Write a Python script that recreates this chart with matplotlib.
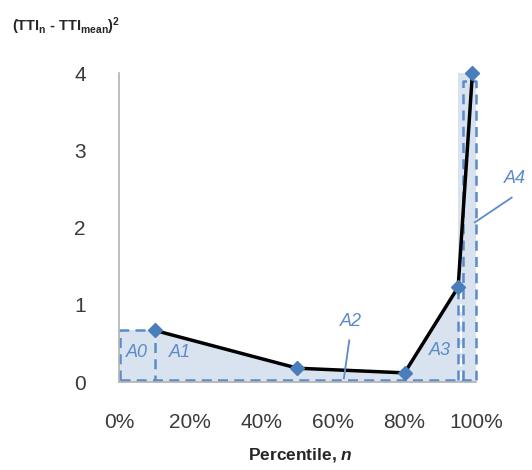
import matplotlib
matplotlib.use("Agg")
import matplotlib.pyplot as plt
from matplotlib.patches import Rectangle
from matplotlib.ticker import FuncFormatter

plt.rcParams["font.family"] = ["Liberation Sans", "DejaVu Sans"]
plt.rcParams["mathtext.fontset"] = "custom"
plt.rcParams["mathtext.rm"] = "Liberation Sans"
plt.rcParams["mathtext.bf"] = "Liberation Sans:bold"
plt.rcParams["mathtext.it"] = "Liberation Sans:italic"
plt.rcParams["mathtext.bfit"] = "Liberation Sans:italic:bold"

# ─── Data ─────────────────────────────────────────────────────────────────────
percentile = [0.10, 0.50, 0.80, 0.95, 0.99]
sq_dev     = [0.67, 0.18, 0.12, 1.23, 4.00]

x_ticks = [0.0, 0.2, 0.4, 0.6, 0.8, 1.0]
y_ticks = [0, 1, 2, 3, 4]

area_labels = ["A0", "A1", "A2", "A3", "A4"]
area_text_xy = [(0.05, 0.39), (0.17, 0.39), (0.65, 0.78), (0.90, 0.41), (1.11, 2.64)]

MARK  = "#4A7EBB"
FILL  = "#D9E3F0"
DASH  = "#5B8BC9"
AXIS  = "#B3B3B3"
TEXT  = "#3A3A3A"

fig = plt.figure(figsize=(5.32, 4.70), dpi=100)
ax = fig.add_axes([0.2237, 0.187, 0.671, 0.657])

# shaded areas under the curve
ax.fill_between([0.0, percentile[0]], 0, sq_dev[0], color=FILL, lw=0, zorder=1)
ax.fill_between(percentile, 0, sq_dev, color=FILL, lw=0, zorder=1)
ax.add_patch(Rectangle((percentile[3], 0), 1.0 - percentile[3], sq_dev[4],
                       facecolor=FILL, edgecolor="none", zorder=1, clip_on=False))

# dashed outlines of the partial areas
dash_kw = dict(color=DASH, lw=1.8, ls=(0, (4, 2.5)), zorder=2, clip_on=False)
ax.plot([0.003, 0.003, percentile[0], percentile[0]],
        [0.03, sq_dev[0], sq_dev[0], 0.03], **dash_kw)
ax.plot([0.003, 1.0], [0.03, 0.03], **dash_kw)
ax.plot([percentile[3], percentile[3]], [0.03, sq_dev[3]], **dash_kw)
ax.plot([percentile[3] + 0.008, percentile[3] + 0.008], [0.03, sq_dev[3]],
        color="white", lw=1.5, ls=(0, (4, 2.5)), zorder=2)
ax.plot([percentile[3] + 0.015, percentile[3] + 0.015, 1.0, 1.0],
        [0.03, 3.9, 3.9, 0.03], **dash_kw)

# the curve itself
ax.plot(percentile, sq_dev, color="black", lw=2.5, zorder=3, clip_on=False)
ax.plot(percentile, sq_dev, ls="none", marker="D", ms=7.5, color=MARK,
        zorder=4, clip_on=False)

# area names and leader lines
for name, (tx, ty) in zip(area_labels, area_text_xy):
    ax.text(tx, ty, name, color=DASH, fontsize=13, style="italic",
            ha="center", va="center", zorder=5, clip_on=False)
ax.plot([0.645, 0.63], [0.54, 0.05], color=DASH, lw=1.3, zorder=5)
ax.plot([1.10, 0.997], [2.39, 2.07], color=DASH, lw=1.3, zorder=5, clip_on=False)

# axes styling
ax.set_xlim(0, 1)
ax.set_ylim(0, 4)
ax.set_xticks(x_ticks)
ax.set_yticks(y_ticks)
ax.xaxis.set_major_formatter(FuncFormatter(lambda v, _: f"{v:.0%}"))
ax.tick_params(length=0, labelsize=15, labelcolor=TEXT)
ax.tick_params(axis="x", pad=22)
ax.tick_params(axis="y", pad=24)
for side in ("top", "right"):
    ax.spines[side].set_visible(False)
for side in ("left", "bottom"):
    ax.spines[side].set_color(AXIS)
    ax.spines[side].set_linewidth(1.2)

fig.text(0.022, 0.945, r"$\mathbf{(TTI_n}$ - $\mathbf{TTI_{mean})^2}$",
         fontsize=10.5, fontweight="bold", color="#262626",
         ha="left", va="center")
fig.text(0.565, 0.012, r"Percentile, $\mathbfit{n}$",
         fontsize=12.5, fontweight="bold", color="#262626",
         ha="center", va="bottom")

fig.savefig("out.png", dpi=100)
